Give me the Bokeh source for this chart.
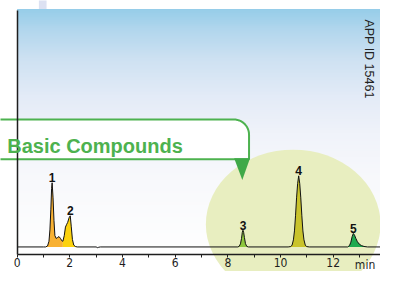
import numpy as np
from bokeh.plotting import figure
from bokeh.models import Range1d, FixedTicker, Label
from bokeh.embed import file_html
from bokeh.resources import INLINE
from bokeh.core.properties import value

# ---------------- data ----------------
time_min = [0.00, 1.00, 1.082, 1.155, 1.21, 1.246, 1.282, 1.31, 1.33, 1.365, 1.40, 1.435,
            1.483, 1.537, 1.59, 1.647, 1.70, 1.738, 1.79, 1.836, 1.883, 1.92, 1.975,
            2.018, 2.055, 2.10, 2.15, 2.21, 2.28, 3.00, 3.06, 3.10, 3.16,
            8.38, 8.43, 8.48, 8.52, 8.55, 8.575, 8.60, 8.63, 8.67, 8.72, 8.78,
            10.29, 10.39, 10.44, 10.49, 10.53, 10.57, 10.61, 10.65, 10.69, 10.73,
            10.77, 10.81, 10.85, 10.89, 10.94, 10.99, 11.09,
            12.55, 12.62, 12.67, 12.72, 12.765, 12.81, 12.86, 12.92, 12.99, 13.07,
            13.17, 13.30, 13.80]
signal = [0, 0, 0, 1, 6, 18, 40, 62, 68, 52, 28, 12,
          9, 10, 11, 9, 6.5, 6, 12, 21, 24, 26, 31,
          33, 22, 8, 2, 0.5, 0, 0, -0.8, -0.3, 0,
          0, 0.6, 3.3, 9, 15.5, 17.7, 15.5, 10, 3.5, 0.6, 0,
          0, 0.4, 2.0, 7.5, 17, 33, 52, 67, 75.3, 67,
          52, 33, 17, 7.5, 2.0, 0.4, 0,
          0, 1.5, 5, 11, 14.3, 12.5, 9, 5.5, 3, 1.5,
          0.5, 0, 0]

peak_numbers = ["1", "2", "3", "4", "5"]
peak_start = [1.082, 1.738, 8.38, 10.29, 12.55]
peak_end = [1.738, 2.28, 8.78, 11.09, 13.30]

tick_values = [0, 2, 4, 6, 8, 10, 12]
minor_tick_values = [1, 3, 5, 7, 9, 11, 13]
x_unit_label = "min"
app_id_text = "APP ID 15461"
callout_text = "Basic Compounds"

# ---------------- styles ----------------
peak_colors = ["#F8B133", "#FCD20F", "#8DC63F", "#C9C32B", "#1FAA4F"]
GREEN = "#4DB24F"
DARK = "#1e1e1e"
NARROW = "Liberation Sans Narrow, DejaVu Sans Condensed, Arial Narrow, sans-serif"
SANS = "Liberation Sans"

# layout helpers: reference-pixel -> data
PXX = 27.45
def rx(px):
    return (px - 17.3) / PXX
def ry(py):
    return 261.0 - py

X0, X1 = rx(0), rx(396)
Y0, Y1 = ry(287), ry(0)
AXIS_Y = ry(269)
TOP_Y = ry(9)

p = figure(width=380, height=271, x_range=Range1d(X0, X1), y_range=Range1d(Y0, Y1),
           output_backend="svg", toolbar_location=None, min_border=0,
           min_border_left=0, min_border_right=0, min_border_top=0, min_border_bottom=0)
p.outline_line_color = None
p.grid.visible = False
p.background_fill_color = "white"
p.border_fill_color = "white"

# gradient background (plot area)
H = 260
rows = np.arange(H)
ref_y = 269 - (rows + 0.5) * 260 / H
stops_y = [9, 30, 60, 100, 140, 190, 269]
stops_rgb = np.array([(149, 205, 233), (176, 214, 237), (205, 225, 242), (227, 235, 247),
                      (240, 243, 250), (248, 249, 252), (255, 255, 255)], dtype=float)
img = np.empty((H, 2), dtype=np.uint32)
view = img.view(dtype=np.uint8).reshape((H, 2, 4))
for c in range(3):
    col = np.interp(ref_y, stops_y, stops_rgb[:, c]).astype(np.uint8)
    view[:, :, c] = col[:, None]
view[:, :, 3] = 255
p.image_rgba(image=[img], x=0, y=AXIS_Y, dw=X1, dh=TOP_Y - AXIS_Y)

# small fragment at the top edge
p.quad(left=rx(40), right=rx(48), bottom=ry(9), top=ry(-3), fill_color="#DCE1F2", line_color=None)

# highlight ellipse
p.ellipse(x=rx(305), y=ry(237), width=182 / PXX, height=158, fill_color="#E8EEC0", line_color=None)

# callout box with rounded top-right corner
r_px = 16
theta = np.linspace(np.pi / 2, 0, 14)
arc_x = rx(259 - r_px + r_px * np.cos(theta))
arc_y = ry(126 + r_px - r_px * np.sin(theta))
bx0, bx1 = rx(-8), rx(259)
by_bot, by_top = ry(168), ry(126)
xs = [bx0] + list(arc_x) + [bx1, bx0]
ys = [by_top] + list(arc_y) + [by_bot, by_bot]
p.patch(xs, ys, fill_color="white", line_color=GREEN, line_width=2)
p.patch([rx(243.5), rx(260), rx(252)], [ry(167), ry(167), ry(190)],
        fill_color="#3FA948", line_color=None)
p.add_layout(Label(x=rx(7), y=ry(154.3), text=callout_text, text_font=SANS,
                   text_font_style="bold", text_font_size="20px", text_color=GREEN,
                   text_baseline="alphabetic"))

# peaks
t = np.array(time_min)
s = np.array(signal)
apex_t, apex_s = [], []
for st, en, col in zip(peak_start, peak_end, peak_colors):
    m = (t >= st - 1e-9) & (t <= en + 1e-9)
    p.varea(x=t[m], y1=0, y2=s[m], fill_color=col)
    i = np.argmax(s[m])
    apex_t.append(t[m][i])
    apex_s.append(s[m][i])
p.line(time_min, signal, line_color="#111111", line_width=1)

p.text(x=apex_t, y=[v + 5.5 for v in apex_s], text=peak_numbers, text_align="center",
       text_baseline="alphabetic", text_font=value(SANS), text_font_style="bold",
       text_font_size="12px", text_color="#111111")

# axes
xa = p.xaxis[0]
xa.fixed_location = AXIS_Y
xa.bounds = (0, X1)
xa.ticker = FixedTicker(ticks=tick_values, minor_ticks=minor_tick_values)
xa.axis_line_color = DARK
xa.axis_line_width = 1.5
xa.major_tick_in = 0
xa.major_tick_out = 3
xa.minor_tick_in = 0
xa.minor_tick_out = 3
xa.major_tick_line_color = DARK
xa.minor_tick_line_color = DARK
xa.major_label_standoff = 0
xa.major_label_text_font = NARROW
xa.major_label_text_font_size = "12px"
xa.major_label_text_color = DARK

ya = p.yaxis[0]
ya.fixed_location = 0
ya.bounds = (AXIS_Y, ry(11))
ya.ticker = FixedTicker(ticks=[])
ya.axis_line_color = DARK
ya.axis_line_width = 1.5
ya.major_tick_line_color = None
ya.minor_tick_line_color = None
ya.major_label_text_font_size = "0px"

p.text(x=[X1 - 0.2], y=[AXIS_Y - 3.5], text=[x_unit_label], text_font=value(NARROW),
       text_font_size="12px", text_color=DARK, text_baseline="top", text_align="right")

p.add_layout(Label(x=rx(384), y=ry(20), text=app_id_text, angle=-np.pi / 2,
                   text_font=SANS, text_font_size="12.5px", text_color="#222222",
                   text_align="left", text_baseline="alphabetic"))

open("out.html", "w").write(file_html(p, INLINE))
